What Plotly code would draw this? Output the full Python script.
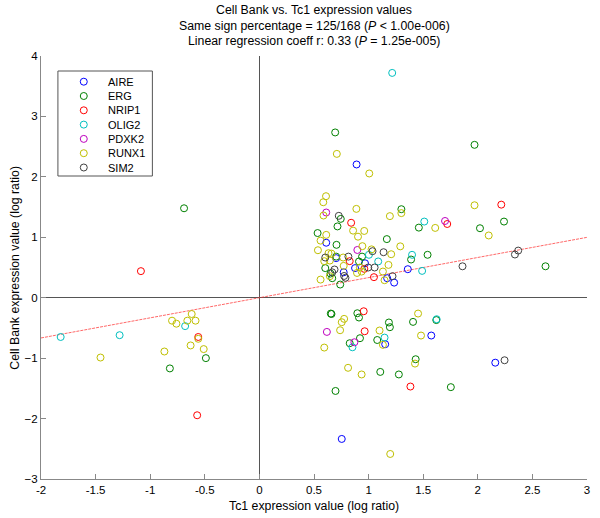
import plotly.graph_objects as go

genes = ["AIRE", "ERG", "NRIP1", "OLIG2", "PDXK2", "RUNX1", "SIM2"]
colors = ["rgb(0,0,255)", "rgb(0,128,0)", "rgb(255,0,0)", "rgb(0,191,191)",
          "rgb(191,0,191)", "rgb(191,191,0)", "rgb(64,64,64)"]

aire_x = [0.89, 0.612, 0.703, 0.967, 0.876, 1.359, 0.772, 1.17, 1.234, 1.574, 1.152, 0.754, 2.16]
aire_y = [2.205, 0.91, 0.655, 0.57, 0.49, 0.472, 0.42, 0.323, 0.25, -0.626, -0.77, -2.337, -1.075]

erg_x = [-0.69, -0.49, -0.82, 2.24, 2.62, 1.753, 0.694, 1.30, 0.745, 0.715, 1.46, 0.533, 1.167,
         0.706, 1.54, 0.703, 0.94, 0.912, 1.389, 0.603, 0.651, 0.667, 0.74, 0.654, 0.66, 0.897,
         0.912, 1.186, 1.195, 1.407, 1.62, 0.921, 1.079, 0.827, 1.431, 1.107, 1.277, 0.697, 1.97, 2.02]
erg_y = [1.48, -1.0, -1.17, 1.26, 0.52, -1.48, 2.735, 1.465, 1.305, 1.18, 1.16, 1.07, 0.97,
         0.875, 0.71, 0.68, 0.68, 0.6, 0.632, 0.49, 0.40, 0.323, 0.218, -0.262, -0.27, -0.257,
         -0.328, -0.41, -0.488, -0.40, -0.37, -0.67, -0.70, -0.753, -1.018, -1.228, -1.27, -1.543, 2.53, 1.15]

nrip1_x = [-1.085, -0.56, -0.57, 2.215, 0.84, 0.827, 0.961, 1.049, 0.955, 0.964, 1.383, 1.72]
nrip1_y = [0.44, -0.65, -1.945, 1.54, 1.24, 0.605, 0.477, 0.34, -0.224, -0.555, -1.47, 1.22]

olig2_x = [-1.82, -1.28, -0.68, 1.216, 1.51, 1.003, 1.398, 1.088, 1.49, 1.623, 1.146, 0.852]
olig2_y = [-0.65, -0.62, -0.47, 3.72, 1.26, 0.71, 0.71, 0.6, 0.444, -0.356, -0.66, -0.82]

pdxk2_x = [0.612, 1.70, 0.897, 0.618, 0.87]
pdxk2_y = [1.41, 1.27, 0.79, -0.566, -0.737]

runx1_x = [-0.62, -0.80, -0.76, -0.66, -0.585, -0.56, -0.63, -0.51, -0.87, -1.455,
           0.709, 1.006, 0.61, 0.585, 1.30, 0.888, 0.587, 1.195, 0.858, 0.96, 1.61, 0.612,
           0.903, 0.56, 0.943, 1.29, 0.536, 1.027, 0.633, 0.66, 1.207, 0.594, 0.645, 0.767,
           0.772, 0.92, 1.182, 0.645, 0.894, 0.936, 1.131, 1.146, 0.56, 1.97, 2.1,
           0.776, 0.754, 1.453, 0.739, 1.10, 1.48, 1.131, 0.594, 1.425, 0.812, 0.936, 1.198]
runx1_y = [-0.27, -0.38, -0.43, -0.38, -0.38, -0.68, -0.79, -0.85, -0.89, -0.99,
           2.38, 2.056, 1.68, 1.58, 1.40, 1.47, 1.36, 1.35, 1.11, 1.105, 1.155, 1.04,
           1.01, 0.945, 0.853, 0.85, 0.786, 0.80, 0.737, 0.73, 0.72, 0.605, 0.615, 0.665,
           0.527, 0.50, 0.543, 0.356, 0.41, 0.433, 0.433, 0.29, 0.30, 1.53, 1.03,
           -0.35, -0.405, -0.262, -0.538, -0.543, -0.626, -0.78, -0.825, -1.09, -1.16, -1.27, -2.586]

sim2_x = [2.37, 2.34, 2.245, 0.727, 1.036, 1.137, 0.603, 0.815, 0.997, 1.055, 0.667, 0.688,
          0.776, 0.788, 1.219, 1.86]
sim2_y = [0.78, 0.715, -1.035, 1.355, 0.77, 0.753, 0.665, 0.68, 0.50, 0.50, 0.42, 0.467,
          0.36, 0.33, 0.356, 0.52]

series_x = [aire_x, erg_x, nrip1_x, olig2_x, pdxk2_x, runx1_x, sim2_x]
series_y = [aire_y, erg_y, nrip1_y, olig2_y, pdxk2_y, runx1_y, sim2_y]

reg_slope = 0.333
reg_intercept = 0.0
x_range = [-2, 3]
y_range = [-3, 4]
x_ticks = [-2, -1.5, -1, -0.5, 0, 0.5, 1, 1.5, 2, 2.5, 3]
x_ticklabels = ["-2", "-1.5", "-1", "-0.5", "0", "0.5", "1", "1.5", "2", "2.5", "3"]
y_ticks = [-3, -2, -1, 0, 1, 2, 3, 4]

title_lines = ["Cell Bank vs. Tc1 expression values",
               "Same sign percentage = 125/168 (<i>P</i> < 1.00e-006)",
               "Linear regression coeff r: 0.33 (<i>P</i> = 1.25e-005)"]
x_title = "Tc1 expression value (log ratio)"
y_title = "Cell Bank expression value (log ratio)"

FONT = "Liberation Sans, Arial, Helvetica, sans-serif"
W, H = 600, 518
# plot area in screenshot pixels
PL, PR, PT, PB = 41, 590, 56, 479
ML, MT = PL, PT
MR, MB = W - PR, H - PB


def px(sx):
    return (sx - PL) / (PR - PL)


def py(sy):
    return (PB - sy) / (PB - PT)


fig = go.Figure()

# regression line
fig.add_trace(go.Scatter(
    x=x_range, y=[reg_intercept + reg_slope * v for v in x_range],
    mode="lines", line=dict(color="rgba(255,40,40,0.7)", width=1, dash="3px,1px"),
    showlegend=False, hoverinfo="skip"))

for g, c, xs, ys in zip(genes, colors, series_x, series_y):
    fig.add_trace(go.Scatter(
        x=xs, y=ys, mode="markers", name=g,
        marker=dict(symbol="circle-open", size=7, color=c, line=dict(width=1, color=c)),
        showlegend=False))

# custom legend (screen-pixel coordinates on an overlay axis)
leg_left, leg_top, leg_right, leg_bottom = 58, 71, 153, 176
leg_row0, leg_step = 81.7, 14.3
fig.add_trace(go.Scatter(
    x=[84] * len(genes), y=[leg_row0 + i * leg_step for i in range(len(genes))],
    xaxis="x2", yaxis="y2", mode="markers",
    marker=dict(symbol="circle-open", size=7, color=colors, line=dict(width=1, color=colors)),
    showlegend=False, hoverinfo="skip"))
for i, g in enumerate(genes):
    fig.add_annotation(x=106, y=leg_row0 + i * leg_step, xref="x2", yref="y2", text=g,
                       showarrow=False, xanchor="left", yanchor="middle",
                       font=dict(family=FONT, size=11, color="black"))
fig.add_shape(type="rect", xref="x2", yref="y2", x0=leg_left, x1=leg_right,
              y0=leg_top, y1=leg_bottom, line=dict(color="#555", width=1),
              fillcolor="rgba(0,0,0,0)", layer="below")

axis_common = dict(showgrid=False, showline=True, linecolor="#888", linewidth=1,
                   ticks="inside", ticklen=5, tickcolor="#888", tickwidth=1,
                   mirror=False, tickfont=dict(family=FONT, size=11.5, color="black"),
                   zeroline=True, zerolinecolor="#555", zerolinewidth=1)

fig.update_layout(
    width=W, height=H, margin=dict(l=ML, r=MR, t=MT, b=MB, pad=0),
    plot_bgcolor="white", paper_bgcolor="white",
    font=dict(family=FONT, size=12, color="black"),
    xaxis=dict(range=x_range, tickvals=x_ticks, ticktext=x_ticklabels, **axis_common),
    yaxis=dict(range=y_range, tickvals=y_ticks, **axis_common),
    xaxis2=dict(range=[PL, PR], overlaying="x", visible=False, anchor="y2"),
    yaxis2=dict(range=[PB, PT], overlaying="y", visible=False, anchor="x2"),
    showlegend=False,
)

# title lines
title_y = [9.5, 25.5, 41.5]
for t, ty in zip(title_lines, title_y):
    fig.add_annotation(x=px((PL + PR) / 2), y=py(ty), xref="paper", yref="paper",
                       text=t, showarrow=False, xanchor="center", yanchor="middle",
                       font=dict(family=FONT, size=12.3, color="black"))

# axis titles
fig.add_annotation(x=px((PL + PR) / 2), y=py(506), xref="paper", yref="paper", text=x_title,
                   showarrow=False, xanchor="center", yanchor="middle",
                   font=dict(family=FONT, size=12.3, color="black"))
fig.add_annotation(x=px(14), y=py((PT + PB) / 2), xref="paper", yref="paper", text=y_title,
                   showarrow=False, xanchor="center", yanchor="middle", textangle=-90,
                   font=dict(family=FONT, size=12.3, color="black"))

fig.write_html("out.html",
               config={"displayModeBar": False, "staticPlot": True},
               post_script="document.body.style.margin='0';document.body.style.overflow='hidden';")
